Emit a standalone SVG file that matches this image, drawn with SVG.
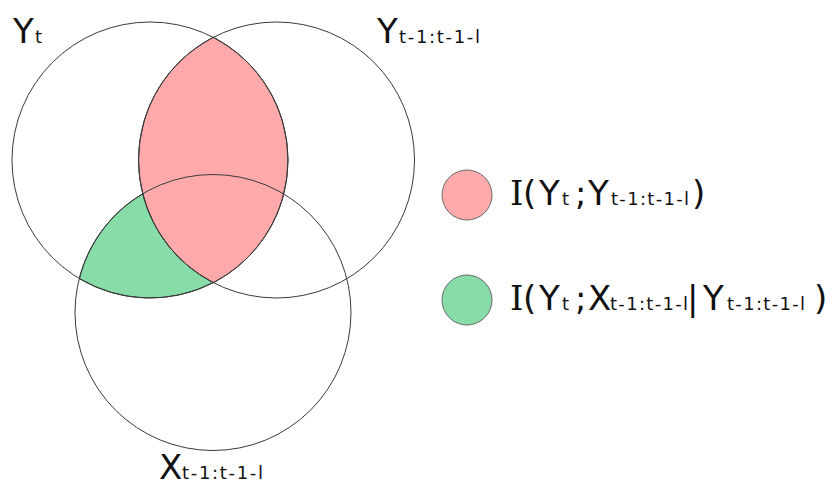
<svg xmlns="http://www.w3.org/2000/svg" width="835" height="481" viewBox="0 0 835 481">
<style>
.c{fill:none;stroke:#3a3a3a;stroke-width:1}
.lg{stroke:#6a6a6a;stroke-width:1}
.red{fill:#ffa9aa}
.grn{fill:#88dca8}
.edge{stroke:#2a2a2a;stroke-width:1}
.m{font-family:"DejaVu Sans",sans-serif;font-size:34px;fill:#111}
.s{font-size:18px}
.i{font-family:"DejaVu Serif",serif}
</style>
<rect width="835" height="481" fill="#ffffff"/>
<g id="regions">
<path id="red-lens" class="red edge" d="M213.25,37.35 A138,138 0 0 1 213.25,282.65 A138,138 0 0 1 213.25,37.35 Z"/>
<path id="green-region" class="grn edge" d="M79.3,278.5 A138,138 0 0 1 142.7,193.75 A138,138 0 0 0 213.25,282.65 A138,138 0 0 1 79.3,278.5 Z"/>
</g>
<g id="circles">
<circle id="circle-yt" class="c" cx="150" cy="160" r="138"/>
<circle id="circle-ypast" class="c" cx="276.5" cy="160" r="138"/>
<circle id="circle-xpast" class="c" cx="213" cy="312.5" r="138"/>
</g>
<g id="labels">
<text id="label-yt" class="m" y="43"><tspan x="13">Y</tspan><tspan class="s" x="35">t</tspan></text>
<text id="label-ypast" class="m" y="43"><tspan x="377">Y</tspan><tspan class="s" x="399" textLength="81" lengthAdjust="spacing">t-1:t-1-l</tspan></text>
<text id="label-xpast" class="m" y="479"><tspan x="159">X</tspan><tspan class="s" x="182" textLength="81" lengthAdjust="spacing">t-1:t-1-l</tspan></text>
</g>
<g id="legend-mi">
<circle class="red lg" cx="467" cy="195" r="25"/>
<text class="m" y="205"><tspan class="i" x="510">I</tspan><tspan x="523">(</tspan><tspan x="539">Y</tspan><tspan class="s" x="562">t</tspan><tspan x="575">;</tspan><tspan x="588">Y</tspan><tspan class="s" x="611" textLength="78" lengthAdjust="spacing">t-1:t-1-l</tspan><tspan x="692">)</tspan></text>
</g>
<g id="legend-te">
<circle class="grn lg" cx="467" cy="300" r="25"/>
<text class="m" y="310"><tspan class="i" x="510">I</tspan><tspan x="523">(</tspan><tspan x="539">Y</tspan><tspan class="s" x="562">t</tspan><tspan x="575">;</tspan><tspan x="588">X</tspan><tspan class="s" x="610" textLength="78" lengthAdjust="spacing">t-1:t-1-l</tspan><tspan x="687">|</tspan><tspan x="703">Y</tspan><tspan class="s" x="727" textLength="78" lengthAdjust="spacing">t-1:t-1-l</tspan><tspan x="814">)</tspan></text>
</g>
</svg>
